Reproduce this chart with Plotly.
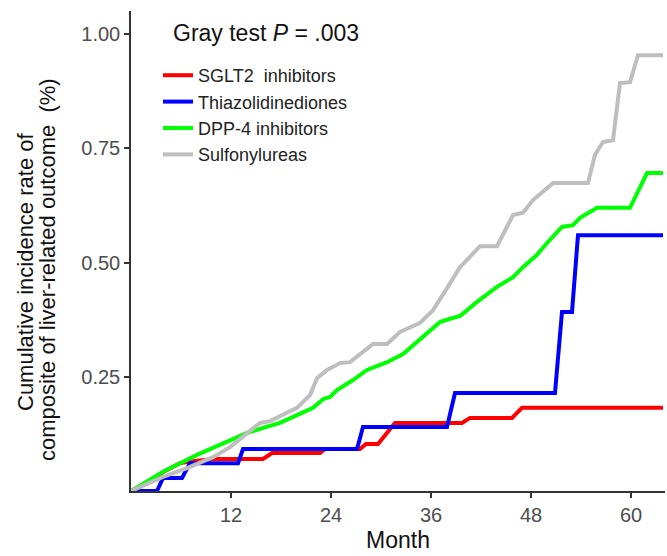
import plotly.graph_objects as go

# ---- data ----
sglt2_month = [0, 2.28, 4.08, 5.88, 7.92, 10.08, 15.84, 16.92, 22.68, 23.28, 27.48, 28.2, 29.64, 31.08, 31.68, 39.72, 40.68, 45.72, 46.92, 63.84]
sglt2_value = [0, 0.022, 0.044, 0.061, 0.066, 0.070, 0.070, 0.083, 0.083, 0.092, 0.092, 0.103, 0.103, 0.136, 0.149, 0.149, 0.160, 0.160, 0.182, 0.182]

tzd_month = [0, 3.12, 3.84, 6.12, 7.08, 12.84, 13.44, 27.12, 27.84, 37.92, 38.88, 50.88, 51.72, 52.92, 53.64, 63.84]
tzd_value = [0, 0, 0.0285, 0.0285, 0.061, 0.061, 0.092, 0.092, 0.140, 0.140, 0.2145, 0.2145, 0.392, 0.392, 0.560, 0.560]

dpp4_month = [0, 3.84, 7.92, 11.88, 13.92, 15.84, 17.88, 19.92, 21.84, 23.04, 23.88, 24.72, 26.64, 28.32, 30.72, 32.64,
              34.68, 37.08, 38.28, 39.48, 41.52, 43.92, 45.84, 47.04, 48.72, 49.92, 51.72, 53.04, 53.88, 55.92, 59.88, 61.92, 63.84]
dpp4_value = [0, 0.042, 0.079, 0.112, 0.127, 0.138, 0.149, 0.166, 0.182, 0.201, 0.206, 0.221, 0.243, 0.265, 0.282, 0.300,
              0.333, 0.370, 0.377, 0.383, 0.414, 0.447, 0.468, 0.490, 0.517, 0.543, 0.578, 0.582, 0.598, 0.620, 0.620, 0.696, 0.696]

su_month = [0, 3.84, 6.72, 9.84, 11.88, 13.92, 15.48, 16.68, 18.72, 19.92, 21.48, 22.32, 23.52, 25.08, 26.28, 28.32, 29.04,
            30.72, 32.28, 34.68, 36.24, 37.92, 39.48, 40.32, 41.88, 43.92, 45.84, 47.04, 48.24, 50.64, 54.84, 55.68, 56.64,
            57.84, 58.68, 59.88, 60.84, 63.84]
su_value = [0, 0.031, 0.050, 0.074, 0.096, 0.127, 0.149, 0.153, 0.171, 0.182, 0.210, 0.247, 0.265, 0.280, 0.282, 0.313, 0.322,
            0.322, 0.348, 0.368, 0.396, 0.444, 0.490, 0.506, 0.536, 0.536, 0.604, 0.609, 0.637, 0.674, 0.674, 0.736, 0.764,
            0.768, 0.893, 0.895, 0.954, 0.954]

series_names = ["SGLT2  inhibitors", "Thiazolidinediones", "DPP-4 inhibitors", "Sulfonylureas"]
series_colors = ["#FF0000", "#0000FF", "#00FF00", "#BEBEBE"]
x_ticks = [12, 24, 36, 48, 60]
y_ticks = [0.25, 0.50, 0.75, 1.00]

FONT = "Liberation Sans, Arial, sans-serif"

fig = go.Figure()
for name, color, xs, ys in zip(series_names, series_colors,
                               [sglt2_month, tzd_month, dpp4_month, su_month],
                               [sglt2_value, tzd_value, dpp4_value, su_value]):
    fig.add_trace(go.Scatter(x=xs, y=ys, mode="lines", name=name,
                             line=dict(color=color, width=4), cliponaxis=False))

fig.update_layout(
    width=667, height=556,
    margin=dict(l=131, r=2, t=11, b=65),
    paper_bgcolor="white", plot_bgcolor="white",
    font=dict(family=FONT),
    showlegend=True,
    legend=dict(x=(158 - 131) / 534, y=(491 - 57) / 480, xanchor="left", yanchor="top",
                bgcolor="rgba(0,0,0,0)", font=dict(size=18, color="#222222"),
                tracegroupgap=0),
    xaxis=dict(range=[0, 64.08], tickvals=x_ticks, showgrid=False, zeroline=False,
               showline=True, linecolor="#333333", linewidth=1.5,
               ticks="outside", ticklen=5, tickwidth=1.5, tickcolor="#333333",
               tickfont=dict(size=20, color="#4D4D4D")),
    yaxis=dict(range=[0, 480 / 456.8], tickvals=y_ticks, tickformat=".2f", showgrid=False, zeroline=False,
               showline=True, linecolor="#333333", linewidth=1.5,
               ticks="outside", ticklen=5, tickwidth=1.5, tickcolor="#333333",
               tickfont=dict(size=20, color="#4D4D4D")),
    annotations=[
        dict(text="Gray test <i>P</i> = .003", xref="paper", yref="paper",
             x=(266 - 131) / 534, y=(491 - 33) / 480, xanchor="center", yanchor="middle",
             showarrow=False, font=dict(size=23, color="#111111")),
        dict(text="Month", xref="paper", yref="paper",
             x=0.5, y=(491 - 540) / 480, xanchor="center", yanchor="middle",
             showarrow=False, font=dict(size=23, color="#111111")),
        dict(text="Cumulative incidence rate of", xref="paper", yref="paper",
             x=(25 - 131) / 534, y=(491 - 272) / 480, xanchor="center", yanchor="middle",
             textangle=-90, showarrow=False, font=dict(size=22, color="#111111")),
        dict(text="composite of liver-related outcome  (%)", xref="paper", yref="paper",
             x=(47 - 131) / 534, y=(491 - 270) / 480, xanchor="center", yanchor="middle",
             textangle=-90, showarrow=False, font=dict(size=22, color="#111111")),
    ],
)

fig.write_html("out.html")
